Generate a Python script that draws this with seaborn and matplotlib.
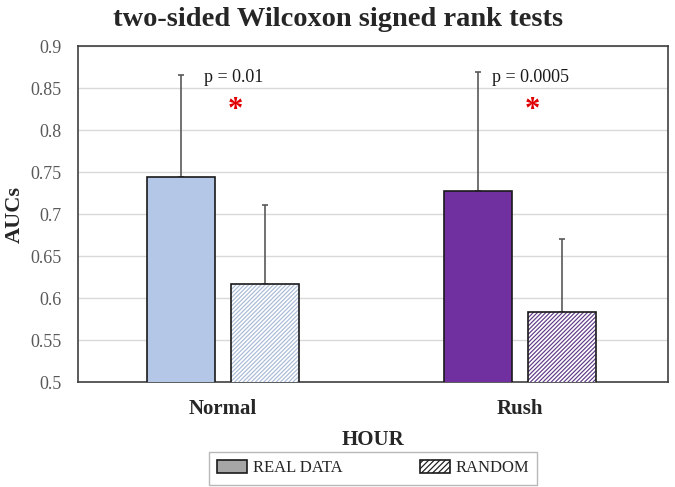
import numpy as np
import pandas as pd
import matplotlib
matplotlib.use('Agg')
import matplotlib.pyplot as plt
from matplotlib.patches import Patch, Rectangle
import seaborn as sns

hours = ['Normal', 'Rush']
series = ['REAL DATA', 'RANDOM']
real_auc = [0.744, 0.727]
real_err = [0.121, 0.142]
random_auc = [0.617, 0.583]
random_err = [0.094, 0.087]
p_labels = ['p = 0.01', 'p = 0.0005']

real_colors = ['#B4C7E7', '#7030A0']
hatch_colors = ['#A9BAD6', '#5E3A86']

df = pd.DataFrame({
    'HOUR': hours * 2,
    'series': [series[0]] * 2 + [series[1]] * 2,
    'AUC': real_auc + random_auc,
})

sns.set_style('white')
plt.rcParams['font.family'] = ['Liberation Serif', 'DejaVu Serif']
plt.rcParams['hatch.linewidth'] = 0.85

fig = plt.figure(figsize=(6.75, 4.87), dpi=100)
ax = fig.add_axes([0.1156, 0.2156, 0.874, 0.6899])

sns.barplot(data=df, x='HOUR', y='AUC', hue='series', order=hours, hue_order=series,
            width=0.566, gap=0.2, legend=False, errorbar=None, ax=ax, zorder=3)

real_bars = ax.containers[0]
rand_bars = ax.containers[1]
for i, b in enumerate(real_bars):
    b.set_facecolor(real_colors[i])
    b.set_edgecolor('#1a1a1a')
    b.set_linewidth(1.2)
for i, b in enumerate(rand_bars):
    b.set_facecolor('white')
    b.set_edgecolor(hatch_colors[i])
    b.set_hatch('////////')
    b.set_linewidth(0)
    ax.add_patch(Rectangle((b.get_x(), b.get_y()), b.get_width(), b.get_height(),
                           facecolor='none', edgecolor='#1a1a1a', lw=1.2, zorder=4))

# one-sided error bars
for bars, vals, errs in [(real_bars, real_auc, real_err), (rand_bars, random_auc, random_err)]:
    xs = [b.get_x() + b.get_width() / 2 for b in bars]
    ax.errorbar(xs, vals, yerr=[np.zeros(len(vals)), errs], fmt='none',
                ecolor='#595959', elinewidth=1.2, capsize=2.5, capthick=1.2, zorder=2)

for i, lab in enumerate(p_labels):
    ax.text(i + 0.035, 0.862, lab, ha='center', va='center', fontsize=13, color='#1a1a1a')
    ax.text(i + 0.04, 0.823, '*', ha='center', va='center', fontsize=22,
            color='#E00000', fontweight='bold')

ax.set_ylim(0.5, 0.9)
ax.set_xlim(-0.488, 1.498)
ax.set_yticks(np.arange(0.5, 0.901, 0.05))
ax.set_yticklabels(['0.5', '0.55', '0.6', '0.65', '0.7', '0.75', '0.8', '0.85', '0.9'])
ax.tick_params(axis='y', labelsize=13, labelcolor='#595959', length=0, pad=12)
ax.tick_params(axis='x', labelsize=15, length=0, pad=12)
for lab in ax.get_xticklabels():
    lab.set_fontweight('bold')
ax.yaxis.grid(True, color='#D9D9D9', lw=1, zorder=0)
ax.set_axisbelow(True)
for s in ax.spines.values():
    s.set_color('#404040')
    s.set_linewidth(1.2)

ax.set_ylabel('AUCs', fontsize=16, fontweight='bold', labelpad=4)
ax.set_xlabel('HOUR', fontsize=15, fontweight='bold', labelpad=8)
fig.suptitle('two-sided Wilcoxon signed rank tests', fontsize=20.5, fontweight='bold',
             x=0.501, y=0.985, va='top', color='#262626')

handles = [Patch(facecolor='#A6A6A6', edgecolor='#1a1a1a', lw=1.2),
           Patch(facecolor='white', edgecolor='#1a1a1a', hatch='//////', lw=1.2)]
fig.legend(handles, series, loc='lower center', bbox_to_anchor=(0.553, -0.012), ncol=2,
           frameon=True, fancybox=False, edgecolor='#A6A6A6', fontsize=12,
           columnspacing=4.6, handlelength=1.8, handleheight=0.8, handletextpad=0.35,
           borderpad=0.5)

fig.savefig('out.png', dpi=100)
